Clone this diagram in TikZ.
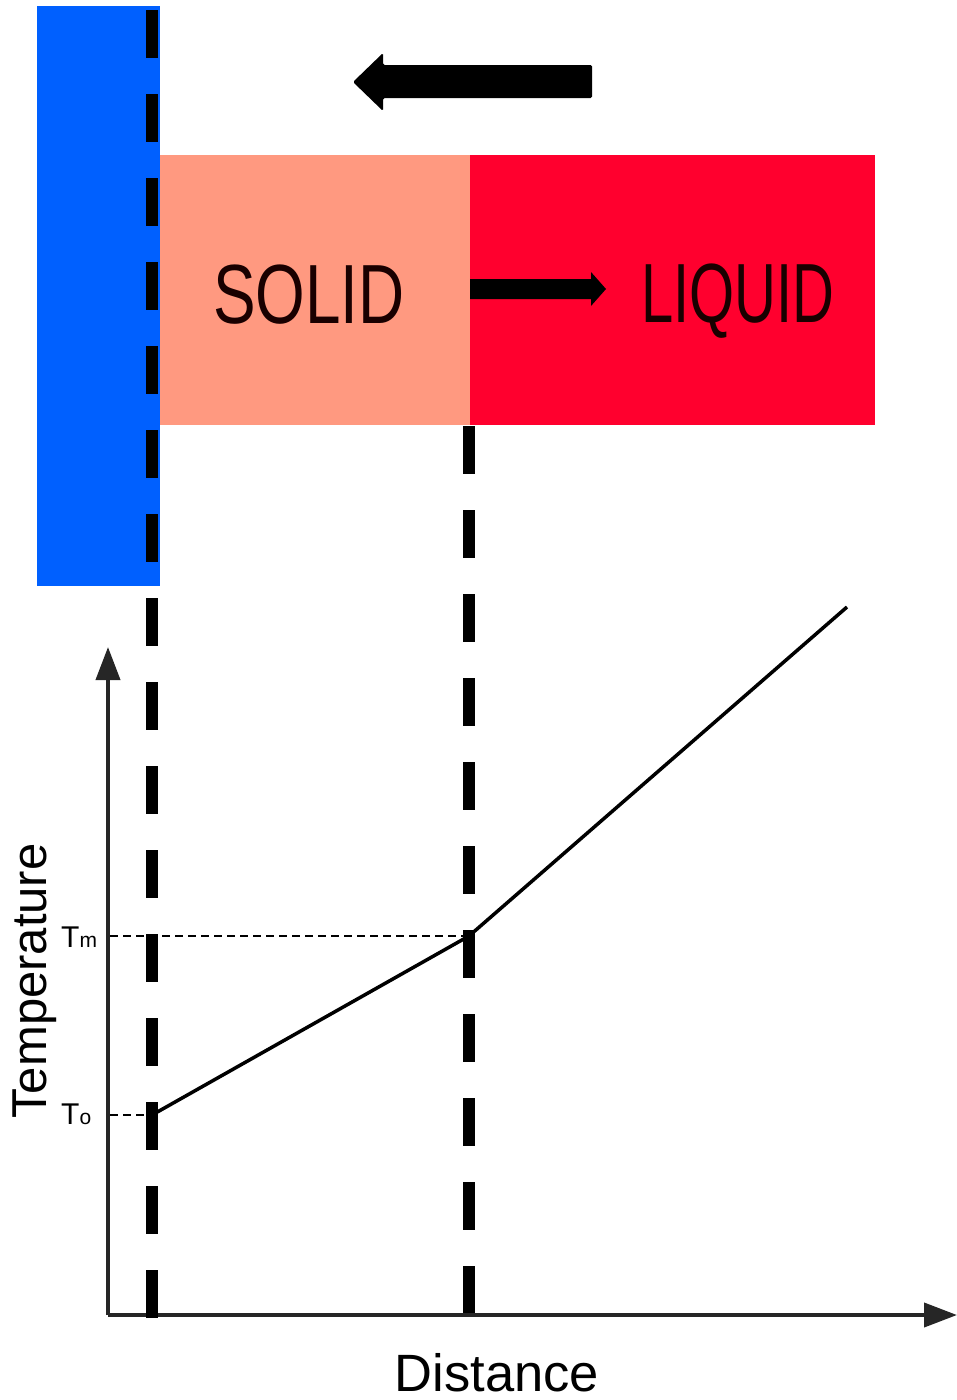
\documentclass[tikz,border=0pt]{standalone}
\usepackage{fontspec}
\setmainfont{Liberation Sans}
\usetikzlibrary{arrows.meta}
\definecolor{wallblue}{RGB}{0,96,255}
\definecolor{solidc}{RGB}{255,153,128}
\definecolor{liquidc}{RGB}{255,0,46}
\begin{document}
\begin{tikzpicture}[x=1pt,y=-1pt,
  bigdash/.style={line width=12pt,dash pattern=on 48pt off 36pt},
  thindash/.style={line width=1.2pt,dash pattern=on 8pt off 5pt},
  axisline/.style={line width=4pt,draw=black!85,-{Triangle[length=33pt,width=24pt]}},
  curveline/.style={line width=3.5pt,line join=round},
  bigword/.style={anchor=base,inner sep=0pt,font=\fontsize{84}{84}\selectfont,text=black!90!red},
  axislabel/.style={anchor=base,inner sep=0pt},
  tlabel/.style={anchor=base west,inner sep=0pt,font=\fontsize{30}{30}\selectfont},
  arrowfill/.style={fill=black}]
\useasboundingbox (0,0) rectangle (957,1400);
% regions
\fill[wallblue] (37,6) rectangle (160,586);
\fill[solidc] (160,155) rectangle (470,425);
\fill[liquidc] (470,155) rectangle (875,425);
% labels in bar
\node[bigword,xscale=0.76] (solid) at (309,323) {SOLID};
\node[bigword,xscale=0.69] (liquid) at (738,322) {LIQUID};
% arrows
\fill[arrowfill,rounded corners=1.5pt] (592,65) -- (383,65) -- (383,53) -- (353,82) -- (383,111) -- (383,98) -- (592,98) -- cycle;
\fill[arrowfill] (470,279) -- (591,279) -- (591,272) -- (606,289) -- (591,306) -- (591,299) -- (470,299) -- cycle;
% coordinates
\coordinate (wallTop) at (152,10);
\coordinate (wallBot) at (152,1319);
\coordinate (frontTop) at (469,426);
\coordinate (frontBot) at (469,1313);
\coordinate (origin) at (108,1315);
\coordinate (ytip) at (108,647);
\coordinate (xtip) at (957,1315);
\coordinate (p0) at (152,1115);
\coordinate (p1) at (469,936);
\coordinate (p2) at (847,607);
\coordinate (tmL) at (110,936);
\coordinate (toL) at (110,1115);
% thin dashed guides
\draw[thindash] (tmL) -- (p1);
\draw[thindash] (toL) -- (p0);
% axes
\draw[axisline] (origin) -- (ytip);
\draw[axisline] (origin) -- (xtip);
% temperature profile
\draw[curveline] (p0) -- (p1) -- (p2);
% big dashed lines
\draw[bigdash] (wallTop) -- (wallBot);
\draw[bigdash] (frontTop) -- (frontBot);
% axis labels
\node[axislabel,rotate=90,font=\fontsize{49}{49}\selectfont] (temp) at (46,981) {Temperature};
\node[axislabel,font=\fontsize{52.5}{52.5}\selectfont] (dist) at (497,1391) {Distance};
\node[tlabel] (tm) at (61,947) {T{\fontsize{21}{21}\selectfont m}};
\node[tlabel] (to) at (61,1124) {T{\fontsize{21}{21}\selectfont o}};
\end{tikzpicture}
\end{document}
